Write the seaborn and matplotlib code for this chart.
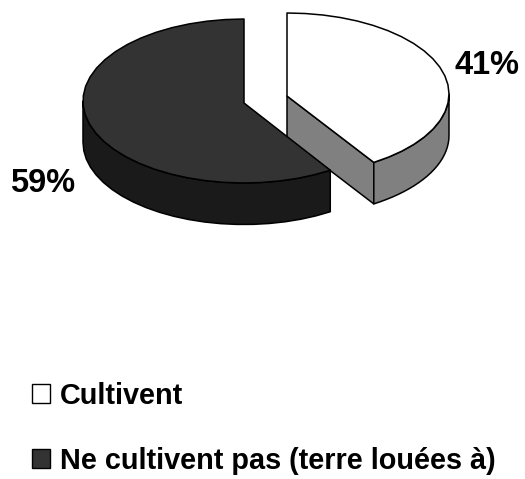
import numpy as np
import matplotlib
matplotlib.use("Agg")
import matplotlib.pyplot as plt
from matplotlib.patches import Polygon, Patch
import seaborn as sns

categories = ["Cultivent", "Ne cultivent pas (terre louées à)"]
values = [41, 59]
labels = ["41%", "59%"]
top_colors = ["#FFFFFF", "#333333"]
side_colors = ["#808080", "#1A1A1A"]
inner_colors = ["#808080", "#333333"]

sns.set_theme(style="white")
plt.rcParams['font.family'] = ['Liberation Sans', 'DejaVu Sans']

fig = plt.figure(figsize=(5.25, 4.79), dpi=100)
ax = fig.add_axes([0, 0, 1, 1])
ax.set_xlim(0, 525)
ax.set_ylim(479, 0)
ax.axis("off")

DEPTH = 41.5
ellipses = [(287, 94, 162, 81), (244, 101, 161, 82)]   # cx, cy, rx, ry
apexes = [(287, 96), (244, 103)]
label_pos = [(487, 65), (43, 183)]
EDGE = dict(edgecolor="black", linewidth=1.1, joinstyle="round")


def pt(e, t):
    return e[0] + e[2] * np.sin(t), e[1] - e[3] * np.cos(t)


fracs = np.cumsum([0] + values) / sum(values) * 2 * np.pi
for i, (e, apex, v) in enumerate(zip(ellipses, apexes, values)):
    a, b = fracs[i], fracs[i + 1]
    t = np.linspace(a, b, 4 + v // 2)
    x, y = pt(e, t)
    lo, hi = max(a, np.pi / 2), min(b, 3 * np.pi / 2)
    tw = np.linspace(lo, hi, 22)
    xw, yw = pt(e, tw)
    wall = np.r_[np.c_[xw, yw], np.c_[xw, yw + DEPTH][::-1]]
    if i == 0:
        ex, ey = pt(e, b)
        face = [apex, (ex, ey), (ex, ey + DEPTH), (apex[0], apex[1] + DEPTH)]
        ax.add_patch(Polygon(face, closed=True, facecolor=inner_colors[i], zorder=2, **EDGE))
    ax.add_patch(Polygon(wall, closed=True, facecolor=side_colors[i], zorder=2, **EDGE))
    top = np.r_[[apex], np.c_[x, y]]
    ax.add_patch(Polygon(top, closed=True, facecolor=top_colors[i], zorder=3, **EDGE))
    ax.text(*label_pos[i], labels[i], ha="center", va="center", fontsize=23.5,
            fontweight="bold", color="black", zorder=5)

handles = [Patch(facecolor=col, edgecolor="black", linewidth=1) for col in top_colors]
ax.legend(handles, categories, loc="upper left", bbox_to_anchor=(32 / 525, 1 - 382 / 479),
          frameon=False, prop=dict(family="Liberation Sans", weight="bold", size=20.8),
          handlelength=0.62, handleheight=0.62, handletextpad=0.36, labelspacing=1.28,
          borderpad=0, borderaxespad=0, labelcolor="black")

fig.savefig("out.png", dpi=100, facecolor="white")
